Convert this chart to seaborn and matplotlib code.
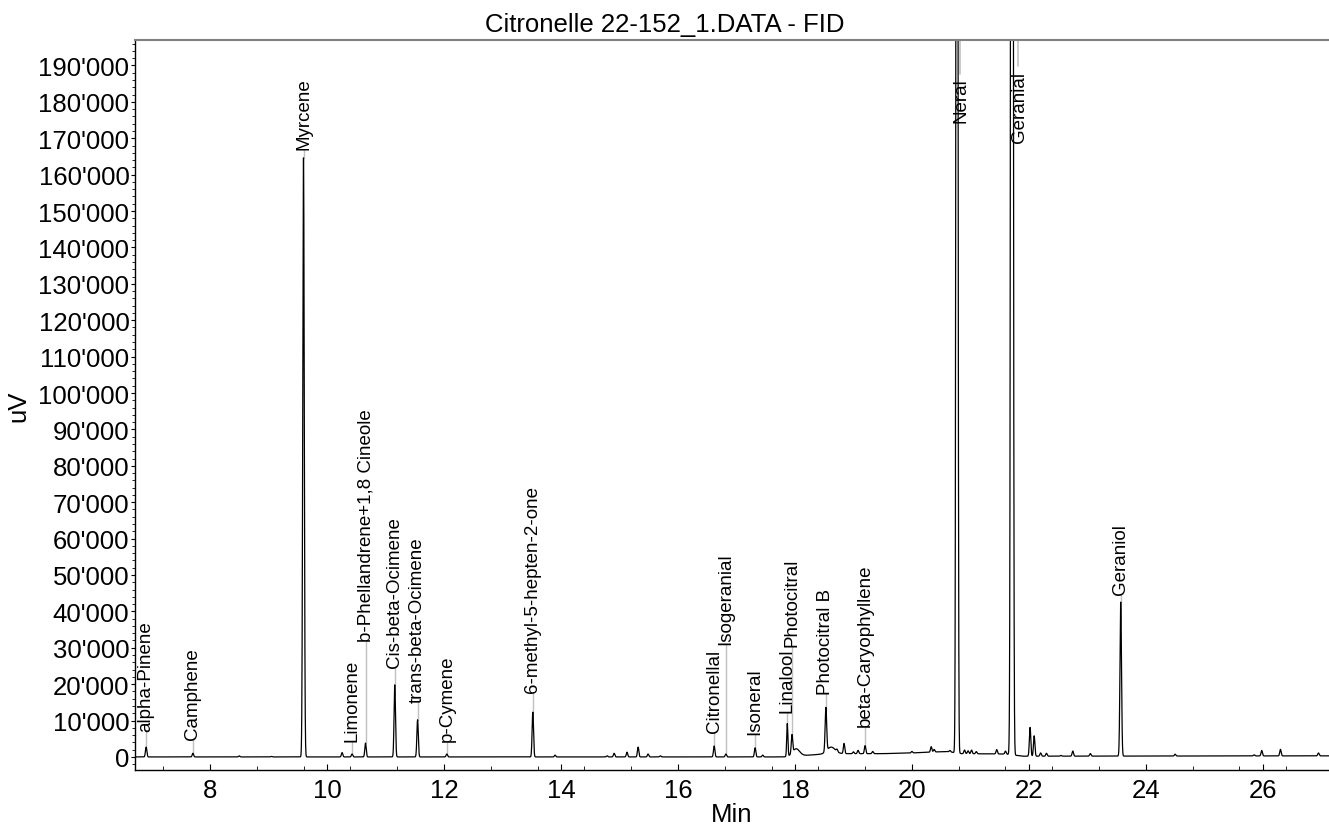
import matplotlib
matplotlib.use("Agg")
import matplotlib.pyplot as plt
import matplotlib.ticker as mticker
import numpy as np
import pandas as pd
import seaborn as sns

# named peaks: retention time (min), apex height above baseline (uV), width (sigma, min)
peak_names = [
    "alpha-Pinene", "Camphene", "Myrcene", "Limonene", "b-Phellandrene+1,8 Cineole",
    "Cis-beta-Ocimene", "trans-beta-Ocimene", "p-Cymene", "6-methyl-5-hepten-2-one",
    "Citronellal", "Isogeranial", "Isoneral", "Linalool", "Photocitral", "Photocitral B",
    "beta-Caryophyllene", "Neral", "Geranial", "Geraniol",
]
peak_times = [6.91, 7.71, 9.60, 10.43, 10.66, 11.16, 11.55, 12.05, 13.52,
              16.62, 16.82, 17.32, 17.87, 17.95, 18.53, 19.20, 20.77, 21.71, 23.57]
peak_heights = [2700, 1000, 164600, 800, 3800, 19800, 10200, 800, 12300,
                3000, 800, 2500, 9000, 5000, 12000, 2200, 600000, 900000, 42300]
peak_sigmas = [0.012, 0.012, 0.013, 0.012, 0.012, 0.012, 0.012, 0.012, 0.012,
               0.012, 0.012, 0.012, 0.010, 0.012, 0.013, 0.012, 0.013, 0.015, 0.013]

# unlabelled minor peaks and peak tails
minor_times = [8.50, 9.05, 10.26, 13.90, 14.79, 14.91, 15.13, 15.32, 15.49, 15.70,
               17.45, 18.02, 18.62, 18.72, 18.84, 19.00, 19.08, 19.33, 20.00, 20.33,
               20.38, 20.65, 20.90, 20.96, 21.02, 21.10, 21.45, 21.60, 22.02, 22.09,
               22.20, 22.30, 22.55, 22.75, 23.05, 24.50, 25.85, 25.98, 26.30, 26.95]
minor_heights = [300, 150, 1200, 500, 300, 1000, 1300, 2700, 800, 300,
                 500, 2000, 1800, 600, 2800, 500, 900, 600, 400, 1500,
                 700, 400, 1000, 800, 1000, 600, 1200, 800, 7900, 5600,
                 900, 800, 200, 1400, 700, 500, 300, 1500, 1800, 800]
minor_sigmas = [0.012] * 11 + [0.06, 0.07] + [0.012] * 27

# baseline drift knots
base_times = [6.70, 17.80, 18.60, 19.50, 20.00, 20.60, 20.85, 21.60, 21.90, 27.20]
base_values = [0, 0, 900, 900, 1100, 1500, 900, 800, 200, 300]

# label anchor heights (uV)
label_bases = [7100, 4900, 167000, 4400, 31900, 24700, 15100, 4400, 17800,
               6900, 31000, 6300, 12400, 30500, 17300, 8500, 174500, 168900, 44800]
label_offsets = {"Neral": 0.07, "Geranial": 0.13}
connector_tops = {"Neral": 187600, "Geranial": 189800}

y_max = 197000
y_min = -3600

time = np.arange(6.70, 27.20, 0.002)
signal = np.interp(time, base_times, base_values)
for t0, h, s in zip(peak_times + minor_times, peak_heights + minor_heights,
                    peak_sigmas + minor_sigmas):
    signal = signal + h * np.exp(-0.5 * ((time - t0) / s) ** 2)
trace = pd.DataFrame({"Min": time, "uV": signal})

sns.set_style("white")
plt.rcParams["font.family"] = ["Liberation Sans", "DejaVu Sans"]
plt.rcParams["text.color"] = "black"
plt.rcParams["axes.labelcolor"] = "black"
plt.rcParams["xtick.color"] = "black"
plt.rcParams["ytick.color"] = "black"

fig = plt.figure(figsize=(13.29, 8.28), dpi=100)
ax = fig.add_axes([0.1016, 0.0688, 0.8984, 0.8817])
sns.lineplot(data=trace, x="Min", y="uV", color="black", linewidth=0.9, ax=ax)

for name, t0, h, lb in zip(peak_names, peak_times, peak_heights, label_bases):
    apex = h + np.interp(t0, base_times, base_values)
    tx = t0 + label_offsets.get(name, 0)
    if name in connector_tops:
        ax.plot([tx - 0.02, tx - 0.02], [connector_tops[name], y_max],
                color="#c0c0c0", linewidth=1.2, zorder=1)
    else:
        ax.plot([t0, t0], [apex, lb], color="#c0c0c0", linewidth=1.0, zorder=1)
    ax.text(tx, lb, name, rotation=90, ha="center", va="bottom", fontsize=13.5)

ax.set_xlim(6.72, 27.13)
ax.set_ylim(y_min, y_max)
ax.xaxis.set_major_locator(mticker.MultipleLocator(2))
ax.xaxis.set_minor_locator(mticker.MultipleLocator(0.8))
ax.yaxis.set_major_locator(mticker.MultipleLocator(10000))
ax.yaxis.set_minor_locator(mticker.MultipleLocator(2000))
ax.yaxis.set_major_formatter(
    mticker.FuncFormatter(lambda v, p: f"{int(v):,}".replace(",", "'")))
ax.tick_params(axis="y", which="major", direction="out", length=3, width=0.8,
               labelsize=18.5, pad=1, left=True)
ax.tick_params(axis="y", which="minor", direction="out", length=2, width=0.6, left=True)
ax.tick_params(axis="x", which="major", direction="in", length=4, width=0.8,
               labelsize=18.5, pad=6, bottom=True)
ax.tick_params(axis="x", which="minor", direction="in", length=3, width=0.6, bottom=True)

for side in ["left", "bottom"]:
    ax.spines[side].set_color("black")
    ax.spines[side].set_linewidth(1.0)
ax.spines["top"].set_color("#808080")
ax.spines["top"].set_linewidth(1.5)
ax.spines["right"].set_visible(False)

ax.set_xlabel("Min", fontsize=18.5, labelpad=0)
ax.set_ylabel("uV", fontsize=18.5, labelpad=6)
fig.text(0.5, 1 - 32 / 828, "Citronelle 22-152_1.DATA - FID",
         ha="center", va="baseline", fontsize=18.5)

fig.savefig("out.png", dpi=100)
plt.close(fig)
